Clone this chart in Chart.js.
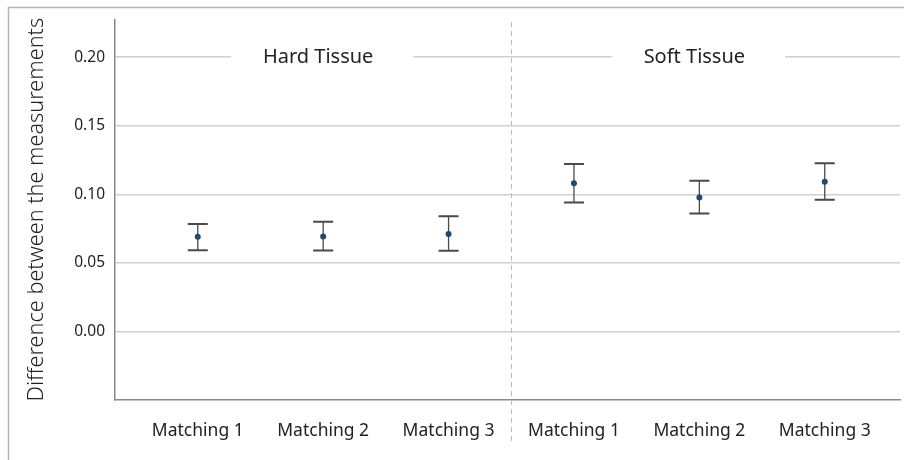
<!DOCTYPE html>
<html>
<head>
<meta charset="utf-8">
<script src="https://cdn.jsdelivr.net/npm/chart.js@4"></script>
<style>
  html, body { margin: 0; padding: 0; background: #fff; }
  #wrap { position: relative; width: 904px; height: 460px; }
</style>
</head>
<body>
<div id="wrap"><canvas id="c" width="904" height="460"></canvas></div>
<script>
const categories = ['Matching 1', 'Matching 2', 'Matching 3', 'Matching 1', 'Matching 2', 'Matching 3'];
const groups = ['Hard Tissue', 'Soft Tissue'];
const groupOf = [0, 0, 0, 1, 1, 1];
const means = [0.0690, 0.0693, 0.0711, 0.1081, 0.0977, 0.1091];
const upper = [0.0783, 0.0800, 0.0839, 0.1220, 0.1098, 0.1227];
const lower = [0.0592, 0.0590, 0.0589, 0.0940, 0.0860, 0.0960];
const yTicks = [0.00, 0.05, 0.10, 0.15, 0.20];
const yTitle = 'Difference between the measurements';

const xPos = categories.map((_, i) => i + 1);

const decor = {
  id: 'decor',
  beforeDraw(chart) {
    const ctx = chart.ctx;
    ctx.save();
    ctx.strokeStyle = '#b5b5b5';
    ctx.lineWidth = 1.5;
    ctx.beginPath();
    ctx.moveTo(8.5, 460);
    ctx.lineTo(8.5, 7.5);
    ctx.lineTo(904, 7.5);
    ctx.stroke();
    ctx.restore();
  },
  beforeDatasetsDraw(chart) {
    const ctx = chart.ctx;
    const xs = chart.scales.x, ys = chart.scales.y;
    ctx.save();
    // group header labels over the 0.20 grid line
    ctx.font = '400 20px "Noto Sans", sans-serif';
    ctx.textAlign = 'center';
    ctx.textBaseline = 'middle';
    const yy = ys.getPixelForValue(0.20);
    groups.forEach((g, gi) => {
      const idx = xPos.filter((_, i) => groupOf[i] === gi);
      const gc = (xs.getPixelForValue(idx[0]) + xs.getPixelForValue(idx[idx.length - 1])) / 2;
      const w = ctx.measureText(g).width + 72;
      ctx.fillStyle = '#fff';
      ctx.fillRect(gc - 1 - w / 2, yy - 4, w, 8);
      ctx.fillStyle = '#222';
      ctx.fillText(g, gc - 5, yy);
    });
    // dashed divider between groups
    const dx = Math.round(xs.getPixelForValue(3.5)) + 0.5;
    ctx.strokeStyle = '#bdbdbd';
    ctx.lineWidth = 1;
    ctx.setLineDash([5, 4]);
    ctx.beginPath();
    ctx.moveTo(dx, 22);
    ctx.lineTo(dx, 442);
    ctx.stroke();
    ctx.setLineDash([]);
    // error bars
    ctx.strokeStyle = '#4a4a4a';
    xPos.forEach((xv, i) => {
      const px = xs.getPixelForValue(xv);
      const pu = ys.getPixelForValue(upper[i]);
      const pl = ys.getPixelForValue(lower[i]);
      ctx.lineWidth = 1.3;
      ctx.beginPath();
      ctx.moveTo(px, pu);
      ctx.lineTo(px, pl);
      ctx.stroke();
      ctx.lineWidth = 2;
      ctx.beginPath();
      ctx.moveTo(px - 10, pu);
      ctx.lineTo(px + 10, pu);
      ctx.moveTo(px - 10, pl);
      ctx.lineTo(px + 10, pl);
      ctx.stroke();
    });
    ctx.restore();
  }
};

new Chart(document.getElementById('c'), {
  type: 'scatter',
  data: {
    datasets: [{
      data: xPos.map((x, i) => ({ x: x, y: means[i] })),
      backgroundColor: '#1f4a6e',
      borderColor: '#1f4a6e',
      pointRadius: 3,
      pointHoverRadius: 3,
      pointBorderWidth: 0
    }]
  },
  options: {
    responsive: false,
    animation: false,
    devicePixelRatio: 1,
    layout: { padding: { left: 10, top: 18, right: 4, bottom: 0 } },
    plugins: { legend: { display: false }, tooltip: { enabled: false } },
    scales: {
      x: {
        type: 'linear',
        min: 0.34,
        max: 6.6,
        afterBuildTicks(s) { s.ticks = xPos.map(v => ({ value: v })); },
        afterFit(s) { s.height = 60; },
        grid: { display: false, drawTicks: false },
        border: { display: true, color: '#8a8a8a', width: 1.5 },
        ticks: {
          autoSkip: false,
          maxRotation: 0,
          padding: 21,
          color: '#222',
          font: { family: '"Noto Sans", sans-serif', size: 17.5 },
          callback: (v) => categories[Math.round(v) - 1] || ''
        }
      },
      y: {
        min: -0.05,
        max: 0.2276,
        afterBuildTicks(s) { s.ticks = yTicks.map(v => ({ value: v })); },
        afterFit(s) { s.width = 105; },
        grid: { color: '#cfcfcf', lineWidth: 1.5, drawTicks: false },
        border: { display: true, color: '#8a8a8a', width: 1.5 },
        ticks: {
          padding: 10,
          color: '#222',
          font: { family: '"Noto Sans", sans-serif', size: 15.5 },
          callback: (v) => v.toFixed(2)
        },
        title: {
          display: true,
          text: yTitle,
          color: '#222',
          padding: { top: 14, bottom: 0 },
          font: { family: '"Noto Sans", sans-serif', size: 21.7, weight: '300' }
        }
      }
    }
  },
  plugins: [decor]
});
</script>
</body>
</html>
